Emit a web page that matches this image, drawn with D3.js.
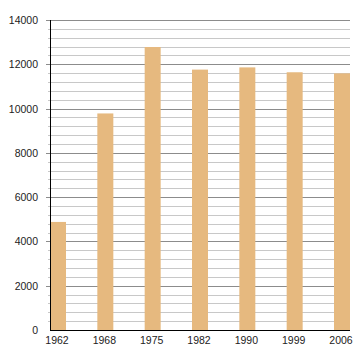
<!DOCTYPE html>
<html>
<head>
<meta charset="utf-8">
<script src="https://cdn.jsdelivr.net/npm/d3@7"></script>
<style>
  body { margin: 0; background: #fff; }
  text { font-family: "Liberation Sans", Arial, sans-serif; }
</style>
</head>
<body>
<div id="container"></div>
<script>
const years = ["1962", "1968", "1975", "1982", "1990", "1999", "2006"]
const population = [4880, 9780, 12780, 11760, 11860, 11640, 11590]
const majorTicks = [0, 2000, 4000, 6000, 8000, 10000, 12000, 14000]

const width = 360, height = 360
const margin = { top: 20, right: 10, bottom: 30, left: 50 }

const svg = d3.select('#container')
    .append('svg').attr('width', width).attr('height', height)

const xScale = d3.scaleBand()
    .domain(years)
    .range([margin.left, width - margin.right])
    .paddingInner(0.662)
    .paddingOuter(0)

const yScale = d3.scaleLinear()
    .domain([0, 14000])
    .range([height - margin.bottom, margin.top])

// minor gridlines every 400
const minor = d3.range(0, 14001, 400).filter(v => v % 2000 !== 0)
svg.selectAll('.minor')
    .data(minor)
    .enter()
    .append('line')
    .attr('x1', margin.left - 2)
    .attr('x2', width - margin.right)
    .attr('y1', d => Math.round(yScale(d)) + 0.5)
    .attr('y2', d => Math.round(yScale(d)) + 0.5)
    .attr('stroke', '#c8c8c8')

svg.selectAll('.major')
    .data(majorTicks.filter(d => d > 0))
    .enter()
    .append('line')
    .attr('x1', margin.left - 4)
    .attr('x2', width - margin.right)
    .attr('y1', d => Math.round(yScale(d)) + 0.5)
    .attr('y2', d => Math.round(yScale(d)) + 0.5)
    .attr('stroke', '#8c8c8c')

svg.selectAll('.bar')
    .data(population)
    .enter()
    .append('rect')
    .attr('x', (d, i) => xScale(years[i]))
    .attr('y', d => yScale(d))
    .attr('width', xScale.bandwidth())
    .attr('height', d => yScale(0) - yScale(d))
    .attr('fill', '#e6b97f')

// axes lines
svg.append('line')
    .attr('x1', margin.left + 0.5).attr('x2', margin.left + 0.5)
    .attr('y1', margin.top).attr('y2', yScale(0))
    .attr('stroke', '#000')
svg.append('line')
    .attr('x1', margin.left).attr('x2', width - margin.right)
    .attr('y1', yScale(0) + 0.5).attr('y2', yScale(0) + 0.5)
    .attr('stroke', '#000')

svg.selectAll('.ylab')
    .data(majorTicks)
    .enter()
    .append('text')
    .attr('x', margin.left - 12)
    .attr('y', d => yScale(d) + 4)
    .attr('text-anchor', 'end')
    .attr('font-size', 10.5)
    .attr('fill', '#222')
    .text(d => d)

svg.selectAll('.xlab')
    .data(years)
    .enter()
    .append('text')
    .attr('x', d => xScale(d) + xScale.bandwidth() / 2 - 1)
    .attr('y', height - margin.bottom + 14)
    .attr('text-anchor', 'middle')
    .attr('font-size', 10.5)
    .attr('fill', '#222')
    .text(d => d)
</script>
</body>
</html>
